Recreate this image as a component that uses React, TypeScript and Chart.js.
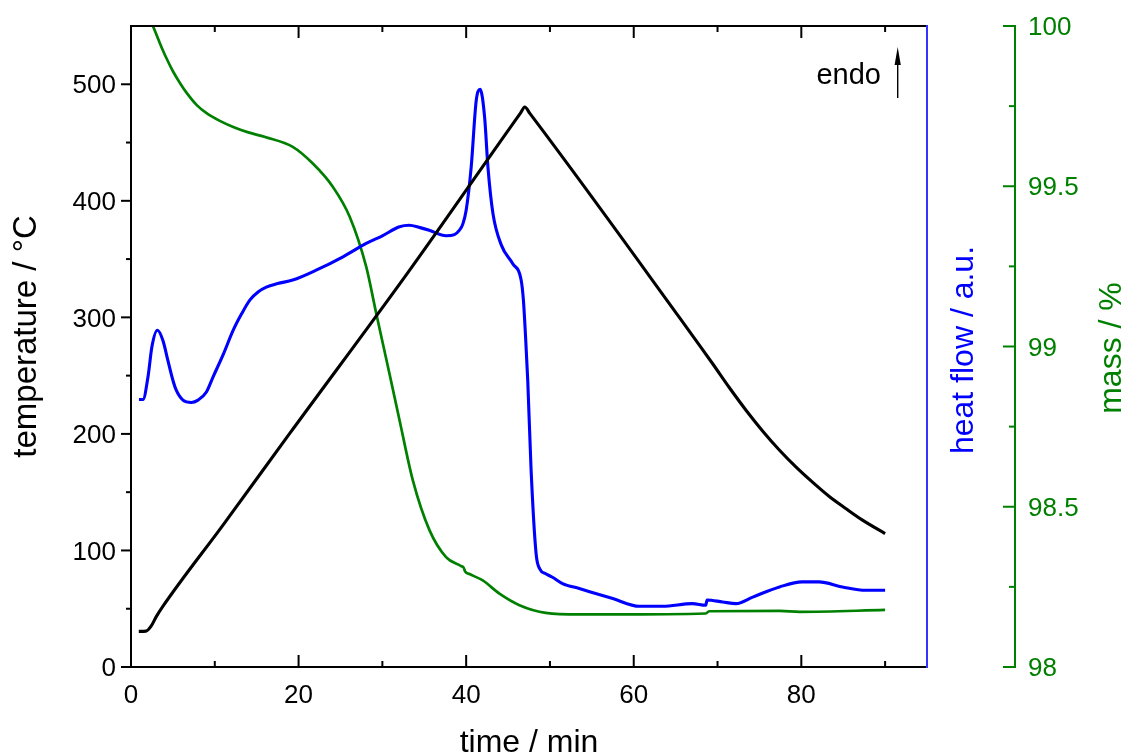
import React, { useEffect, useRef } from 'react';
import { Chart, registerables } from 'chart.js';

Chart.register(...registerables);

// ---- data (time in min) ----
const tempTime = [0.93, 1.8, 2.4, 3.0, 3.8, 11.0, 18.9, 33.0, 46.5, 47, 47.6, 65.4, 67.4, 69.4, 71.4, 73.4, 75.4, 77.4, 79.35, 81.3, 83.3, 85.3, 87.3, 90];
const tempValues = [30.6, 30.8, 35, 43, 52, 122, 200, 338, 475.5, 480.5, 475, 300.4, 280.4, 260.4, 239.8, 220.3, 202.3, 186, 171.7, 158.8, 146.5, 136, 126, 114.5];

const heatTime = [0.95, 1.43, 2.03, 2.5, 3.15, 3.82, 4.4, 5.0, 5.4, 6.2, 7.2, 8.0, 9.0, 9.8, 11.0, 12.2, 13.2, 14.2, 15.2, 16.15, 17.5, 19.3, 22.1, 25.3, 28.07, 30, 32.05, 33.2, 34.5, 35.6, 37.6, 38.6, 39.2, 39.6, 40.0, 40.6, 41.2, 41.67, 42.2, 42.6, 43.2, 44.2, 45.56, 46.56, 46.83, 47.07, 47.35, 47.75, 48.35, 48.8, 49.5, 50.3, 51.5, 53.5, 57.5, 60.67, 63.45, 67.0, 68.6, 68.75, 70.6, 72.2, 74.2, 77.4, 80.1, 82.1, 84.9, 87.7, 90];
const heatValues = [229.5, 229.5, 249, 275, 289, 280, 263, 246, 237.5, 229, 227, 229, 236, 249, 268, 289, 303, 315, 322, 326, 329, 332, 340.5, 352, 363.4, 370, 377.7, 379, 377, 374.8, 370, 371, 374.8, 380, 392, 429, 486, 495.6, 472, 429, 389, 362, 346, 332, 315, 286, 246, 169, 97, 84, 80, 77, 71.6, 67.3, 58.7, 52.1, 52.1, 54.4, 53, 57.5, 55.8, 54.4, 60, 68.7, 73, 73, 68.7, 65.8, 65.8];

const massTime = [2.62, 3.42, 4.22, 5.02, 5.82, 6.62, 7.82, 9.02, 10.6, 12.2, 14.0, 16.1, 19.3, 21.7, 24.1, 26.1, 28.07, 29.27, 30.85, 32.05, 33.63, 35.62, 37.6, 39.4, 39.7, 39.9, 40.4, 41.98, 43.97, 46.36, 49.5, 53.5, 57.5, 68.6, 69.0, 77.4, 79.8, 90];
const massValues = [100.0, 99.948, 99.9, 99.858, 99.823, 99.792, 99.754, 99.728, 99.704, 99.685, 99.668, 99.653, 99.623, 99.571, 99.498, 99.405, 99.249, 99.103, 98.915, 98.77, 98.583, 98.427, 98.343, 98.315, 98.31, 98.297, 98.29, 98.27, 98.229, 98.193, 98.169, 98.164, 98.164, 98.167, 98.174, 98.175, 98.172, 98.178];

// ---- ticks ----
const timeTicks = [0, 20, 40, 60, 80];
const timeMinorTicks = [10, 30, 50, 70, 90];
const tempTicks = [0, 100, 200, 300, 400, 500];
const tempMinorTicks = [50, 150, 250, 350, 450];
const massTicks = [98, 98.5, 99, 99.5, 100];
const massMinorTicks = [98.25, 98.75, 99.25, 99.75];

const FONT = '"Liberation Sans", Arial, Helvetica, sans-serif';
const BLUE = '#0000ff';
const GREEN = '#008000';

const decor = {
  id: 'decor',
  afterDatasetsDraw(chart: any) {
    const { ctx, chartArea: a, scales } = chart;
    const xs = scales.x;
    const ys = scales.y;
    const ms = scales.mass;
    ctx.save();
    ctx.lineCap = 'butt';

    const seg = (x1: number, y1: number, x2: number, y2: number) => {
      ctx.beginPath();
      ctx.moveTo(x1, y1);
      ctx.lineTo(x2, y2);
      ctx.stroke();
    };

    // blue right border (heat flow axis)
    ctx.strokeStyle = BLUE;
    ctx.lineWidth = 1.6;
    seg(a.right, a.top - 1, a.right, a.bottom + 1);

    // black frame
    ctx.strokeStyle = '#000';
    ctx.lineWidth = 2;
    ctx.beginPath();
    ctx.moveTo(a.right - 1, a.top);
    ctx.lineTo(a.left, a.top);
    ctx.lineTo(a.left, a.bottom);
    ctx.lineTo(a.right - 1, a.bottom);
    ctx.stroke();

    // x ticks (inward, bottom and top)
    timeTicks.forEach((v) => {
      const p = xs.getPixelForValue(v);
      seg(p, a.bottom, p, a.bottom - 12);
      seg(p, a.top, p, a.top + 12);
    });
    timeMinorTicks.forEach((v) => {
      const p = xs.getPixelForValue(v);
      seg(p, a.bottom, p, a.bottom - 6);
      seg(p, a.top, p, a.top + 6);
    });

    // y ticks (outward, left)
    tempTicks.forEach((v) => {
      const p = ys.getPixelForValue(v);
      seg(a.left, p, a.left - 10, p);
    });
    tempMinorTicks.forEach((v) => {
      const p = ys.getPixelForValue(v);
      seg(a.left, p, a.left - 5, p);
    });

    // mass axis
    ctx.strokeStyle = GREEN;
    const mx = ms.left;
    seg(mx, a.top - 1, mx, a.bottom + 1);
    massTicks.forEach((v) => {
      const p = ms.getPixelForValue(v);
      seg(mx, p, mx - 12, p);
    });
    massMinorTicks.forEach((v) => {
      const p = ms.getPixelForValue(v);
      seg(mx, p, mx - 6, p);
    });

    // titles
    const rotText = (txt: string, x: number, y: number, color: string, size: number) => {
      ctx.save();
      ctx.translate(x, y);
      ctx.rotate(-Math.PI / 2);
      ctx.fillStyle = color;
      ctx.textAlign = 'center';
      ctx.textBaseline = 'alphabetic';
      ctx.font = `${size}px ${FONT}`;
      ctx.fillText(txt, 0, 0);
      ctx.restore();
    };
    rotText('temperature / °C', 35.5, 336.5, '#000', 33);
    rotText('heat flow / a.u.', 972.5, 350, BLUE, 32);
    rotText('mass / %', 1121, 348, GREEN, 32);

    ctx.fillStyle = '#000';
    ctx.font = `32px ${FONT}`;
    ctx.textAlign = 'center';
    ctx.textBaseline = 'alphabetic';
    ctx.fillText('time / min', (a.left + a.right) / 2, 752);

    // endo annotation
    ctx.font = `29px ${FONT}`;
    ctx.textAlign = 'right';
    ctx.fillText('endo', 881, 84);
    ctx.strokeStyle = '#000';
    ctx.lineWidth = 1.4;
    seg(897.7, 98, 897.7, 60);
    ctx.beginPath();
    ctx.moveTo(897.7, 47);
    ctx.lineTo(894.6, 65);
    ctx.lineTo(900.8, 65);
    ctx.closePath();
    ctx.fill();

    ctx.restore();
  },
};

export default function App() {
  const ref = useRef<HTMLCanvasElement>(null);

  useEffect(() => {
    const canvas = ref.current;
    if (!canvas) return;
    const toXY = (xs: number[], ys: number[]) => xs.map((x, i) => ({ x, y: ys[i] }));
    const setTicks = (vals: number[]) => (scale: any) => {
      scale.ticks = vals.map((v) => ({ value: v }));
    };
    const fitter = (w: number | null, h: number | null) => (s: any) => {
      if (w !== null) s.width = w;
      if (h !== null) s.height = h;
      s.paddingTop = 0;
      s.paddingBottom = 0;
      s.paddingLeft = 0;
      s.paddingRight = 0;
    };
    const tickFont = { family: FONT, size: 26 };
    const noGrid = { display: false, drawTicks: false };

    const chart = new Chart(canvas, {
      type: 'line',
      data: {
        datasets: [
          {
            label: 'temperature',
            data: toXY(tempTime, tempValues),
            yAxisID: 'y',
            borderColor: '#000',
            borderWidth: 3.1,
            pointRadius: 0,
            cubicInterpolationMode: 'monotone',
          },
          {
            label: 'heat flow',
            data: toXY(heatTime, heatValues),
            yAxisID: 'heat',
            borderColor: BLUE,
            borderWidth: 3.1,
            pointRadius: 0,
            cubicInterpolationMode: 'monotone',
          },
          {
            label: 'mass',
            data: toXY(massTime, massValues),
            yAxisID: 'mass',
            borderColor: GREEN,
            borderWidth: 2.7,
            pointRadius: 0,
            cubicInterpolationMode: 'monotone',
          },
        ],
      } as any,
      options: {
        responsive: false,
        animation: false,
        devicePixelRatio: 1,
        events: [],
        layout: { padding: { top: 26, left: 0, right: 0, bottom: 0 } },
        plugins: {
          legend: { display: false },
          tooltip: { enabled: false },
          title: { display: false },
        },
        scales: {
          x: {
            type: 'linear',
            position: 'bottom',
            min: 0,
            max: 95,
            grid: noGrid,
            border: { display: false },
            afterBuildTicks: setTicks(timeTicks),
            afterFit: fitter(null, 89),
            ticks: {
              font: tickFont,
              color: '#000',
              padding: 13,
              maxRotation: 0,
              autoSkip: false,
              callback: (v: any) => String(v),
            },
          },
          y: {
            type: 'linear',
            position: 'left',
            min: 0,
            max: 550,
            grid: noGrid,
            border: { display: false },
            afterBuildTicks: setTicks(tempTicks),
            afterFit: fitter(131, null),
            ticks: {
              font: tickFont,
              color: '#000',
              padding: 15,
              labelOffset: 2,
              autoSkip: false,
              callback: (v: any) => String(v),
            },
          },
          heat: {
            type: 'linear',
            position: 'right',
            weight: 0,
            min: 0,
            max: 550,
            grid: noGrid,
            border: { display: false },
            ticks: { display: false },
            afterFit: fitter(88, null),
          },
          mass: {
            type: 'linear',
            position: 'right',
            weight: 1,
            min: 98,
            max: 100,
            grid: noGrid,
            border: { display: false },
            afterBuildTicks: setTicks(massTicks),
            afterFit: fitter(111, null),
            ticks: {
              font: tickFont,
              color: GREEN,
              padding: 13,
              labelOffset: 2,
              autoSkip: false,
              callback: (v: any) => String(v),
            },
          },
        },
      } as any,
      plugins: [decor],
    });

    return () => chart.destroy();
  }, []);

  return (
    <div style={{ position: 'absolute', left: 0, top: 0, width: 1126, height: 756, background: '#fff' }}>
      <canvas ref={ref} width={1126} height={756} style={{ display: 'block' }} />
    </div>
  );
}
